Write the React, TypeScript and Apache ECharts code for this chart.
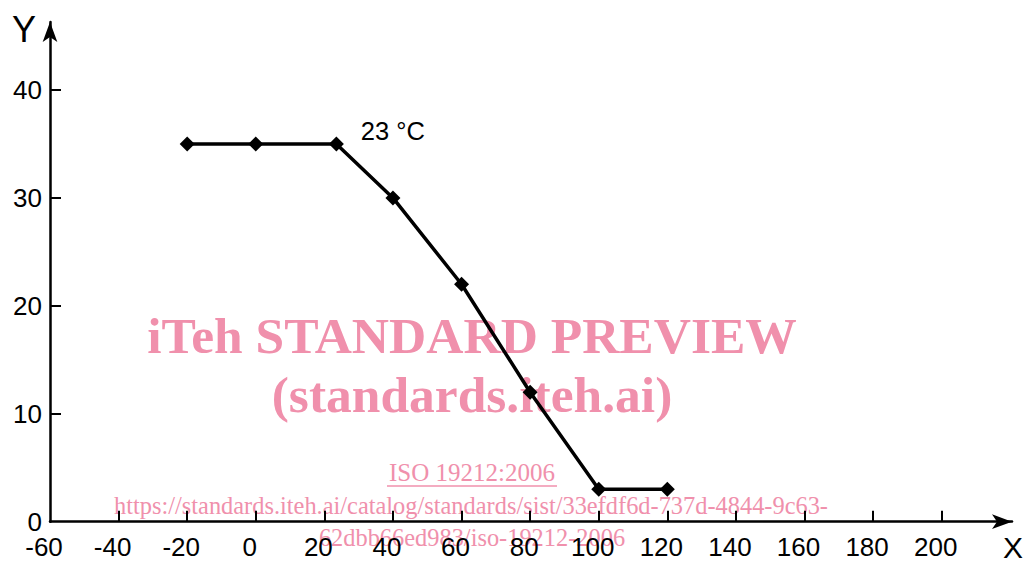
import React, { useEffect, useRef } from "react";
import * as echarts from "echarts";

const xTicks = [-60, -40, -20, 0, 20, 40, 60, 80, 100, 120, 140, 160, 180, 200];
const yTicks = [0, 10, 20, 30, 40];
const xValues = [-20, 0, 23.5, 40, 60, 80, 100, 120];
const yValues = [35, 35, 35, 30, 22, 12, 3, 3];
const curveLabel = "23 °C";
const curveLabelIndex = 2;
const axisNameX = "X";
const axisNameY = "Y";
const watermark1 = "iTeh STANDARD PREVIEW";
const watermark2 = "(standards.iteh.ai)";
const isoText = "ISO 19212:2006";
const url1 = "https://standards.iteh.ai/catalog/standards/sist/33efdf6d-737d-4844-9c63-";
const url2 = "62dbb66ed983/iso-19212-2006";

const PINK = "#f090ac";

export default function App() {
  const ref = useRef<HTMLDivElement>(null);
  useEffect(() => {
    if (!ref.current) return;
    const chart = echarts.init(ref.current, null, { renderer: "svg" });
    const font = "Liberation Sans, Arial, Helvetica, sans-serif";
    const serif = "Liberation Serif, Times New Roman, serif";
    const data = xValues.map((x, i) => {
      const item: any = { value: [x, yValues[i]] };
      if (i === curveLabelIndex) {
        item.label = {
          show: true,
          formatter: curveLabel,
          position: "right",
          distance: 17,
          offset: [0, -13],
          color: "#000",
          fontSize: 25.5,
          fontFamily: font,
        };
      }
      return item;
    });
    chart.setOption({
      animation: false,
      backgroundColor: "#fff",
      grid: { left: 50, right: 16, top: 22, bottom: 41.3, containLabel: false },
      xAxis: {
        type: "value",
        min: -60,
        max: 220.5,
        interval: 20,
        splitLine: { show: false },
        axisLine: {
          show: true,
          onZero: false,
          lineStyle: { color: "#000", width: 2.5 },
          symbol: ["none", "arrow"],
          symbolSize: [11, 20],
        },
        axisTick: {
          show: true,
          inside: true,
          length: 11,
          lineStyle: { color: "#000", width: 2 },
          customValues: xTicks.slice(1),
        },
        axisLabel: {
          customValues: xTicks,
          color: "#000",
          fontSize: 26,
          fontFamily: font,
          margin: 12,
          padding: [0, 12, 0, 0],
        },
      },
      yAxis: {
        type: "value",
        min: 0,
        max: 46.3,
        interval: 10,
        splitLine: { show: false },
        axisLine: {
          show: true,
          onZero: false,
          lineStyle: { color: "#000", width: 2.5 },
          symbol: ["none", "arrow"],
          symbolSize: [11, 20],
        },
        axisTick: {
          show: true,
          inside: true,
          length: 11,
          lineStyle: { color: "#000", width: 2 },
          customValues: yTicks.slice(1),
        },
        axisLabel: {
          customValues: yTicks,
          color: "#000",
          fontSize: 26,
          fontFamily: font,
          margin: 8,
        },
      },
      graphic: [
        { type: "text", x: 24, y: 29, z: 10, style: { text: axisNameY, font: `36px ${font}`, fill: "#000", align: "center", verticalAlign: "middle" } },
        { type: "text", x: 1013, y: 547, z: 10, style: { text: axisNameX, font: `30px ${font}`, fill: "#000", align: "center", verticalAlign: "middle" } },
        { type: "text", x: 472, y: 335, z: 0, style: { text: watermark1, font: `bold 51.5px ${serif}`, fill: PINK, align: "center", verticalAlign: "middle" } },
        { type: "text", x: 472, y: 394, z: 0, style: { text: watermark2, font: `bold 51.5px ${serif}`, fill: PINK, align: "center", verticalAlign: "middle" } },
        { type: "text", x: 472, y: 472, z: 0, style: { text: isoText, font: `25px ${serif}`, fill: PINK, align: "center", verticalAlign: "middle" } },
        { type: "line", z: 0, shape: { x1: 387, y1: 486, x2: 557, y2: 486 }, style: { stroke: PINK, lineWidth: 1.5 } },
        { type: "text", x: 471, y: 505, z: 0, style: { text: url1, font: `24.4px ${serif}`, fill: PINK, align: "center", verticalAlign: "middle" } },
        { type: "text", x: 472, y: 537, z: 0, style: { text: url2, font: `24.4px ${serif}`, fill: PINK, align: "center", verticalAlign: "middle" } },
      ],
      series: [
        {
          type: "line",
          data,
          z: 5,
          symbol: "diamond",
          symbolSize: 15,
          itemStyle: { color: "#000" },
          lineStyle: { color: "#000", width: 3.5 },
          label: { show: false },
        },
      ],
    });
    return () => chart.dispose();
  }, []);
  return (
    <div
      ref={ref}
      style={{ position: "fixed", left: 0, top: 0, width: 1028, height: 563, background: "#fff" }}
    />
  );
}
